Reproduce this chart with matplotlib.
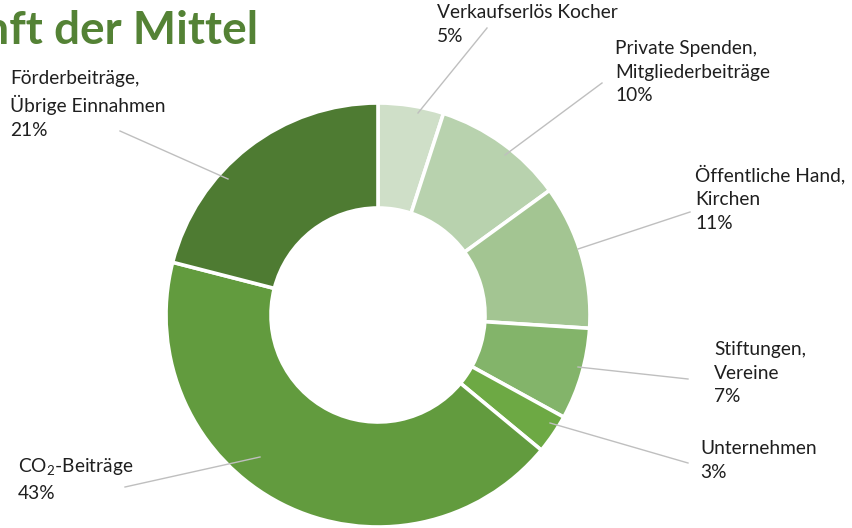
import matplotlib
matplotlib.use("Agg")
import matplotlib.pyplot as plt

plt.rcParams['font.family'] = ['Lato', 'DejaVu Sans']
plt.rcParams['mathtext.fontset'] = 'custom'
plt.rcParams['mathtext.rm'] = 'Lato'

title = "Herkunft der Mittel"
labels = ["Verkaufserlös Kocher",
          "Private Spenden,\nMitgliederbeiträge",
          "Öffentliche Hand,\nKirchen",
          "Stiftungen,\nVereine",
          "Unternehmen",
          "CO$_\\mathregular{2}$-Beiträge",
          "Förderbeiträge,\nÜbrige Einnahmen"]
values = [5, 10, 11, 7, 3, 43, 21]
colors = ["#CFDFC8", "#B8D2AE", "#A3C592", "#83B46A", "#6DA944", "#629B3E", "#4E7B32"]

W, H = 852, 528
fig = plt.figure(figsize=(W / 100, H / 100), dpi=100)
ax = fig.add_axes([0, 0, 1, 1])

cx, cy, R = 378, 315, 212
wedges, _ = ax.pie(values, colors=colors, startangle=90, counterclock=False,
                   center=(cx, H - cy), radius=R,
                   wedgeprops=dict(width=R - 107, edgecolor="white", linewidth=2.6))
ax.set_xlim(0, W)
ax.set_ylim(0, H)
ax.set_aspect('auto')
ax.axis('off')

# layout: (text x, text top y, leader start, leader end) in pixel coords (y down)
layout = [
    (437, 4, (418, 113), (487, 28)),
    (615, 40, (505, 155), (602, 83)),
    (695, 165, (578, 249), (690, 212)),
    (714, 341, (578, 367), (688, 379)),
    (700, 440, (550, 423), (688, 463)),
    (18, 457, (260, 457), (125, 487)),
    (10, 70, (228, 179), (120, 131)),
]
for lab, val, (tx, ty, p0, p1) in zip(labels, values, layout):
    ax.plot([p0[0], p1[0]], [H - p0[1], H - p1[1]], color="#BFBFBF", lw=1.0)
    ax.text(tx, H - ty, f"{lab}\n{val}%", ha="left", va="top", fontsize=13.8,
            color="#1f1f1f", linespacing=1.47)

ax.text(258, H - 31, title, ha="right", va="center", fontsize=33,
        fontweight="bold", color="#548235")

fig.savefig("out.png", dpi=100)
